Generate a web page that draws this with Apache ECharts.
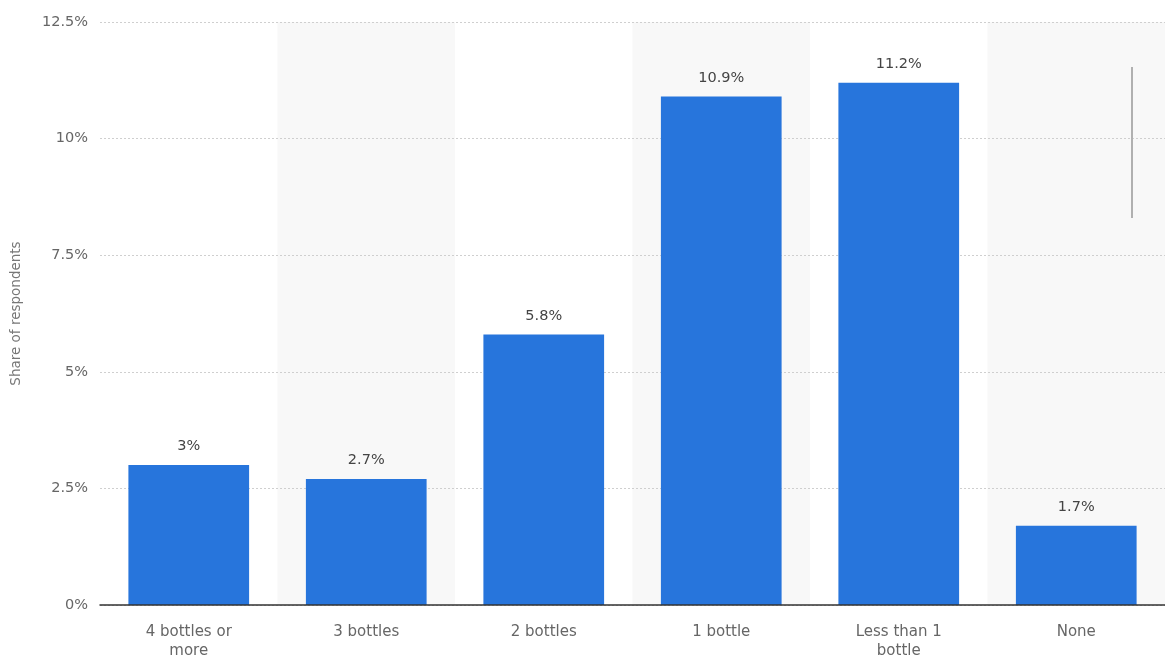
<!DOCTYPE html>
<html><head><meta charset="utf-8">
<script src="https://cdn.jsdelivr.net/npm/echarts@6/dist/echarts.min.js"></script>
<style>html,body{margin:0;padding:0;background:#fff}#c{width:1165px;height:657px}</style>
</head><body><div id="c"></div>
<script>
const categories = ['4 bottles or\nmore', '3 bottles', '2 bottles', '1 bottle', 'Less than 1\nbottle', 'None'];
const values = [3, 2.7, 5.8, 10.9, 11.2, 1.7];
const yTicks = [0, 2.5, 5, 7.5, 10, 12.5];
const yTitle = 'Share of respondents';
const shadedBands = ['3 bottles', '1 bottle', 'None'];

const yMax = yTicks[yTicks.length - 1];
const bandData = categories.map(c => shadedBands.includes(c) ? yMax : null);
const FONT = 'DejaVu Sans, Verdana, sans-serif';

const chart = echarts.init(document.getElementById('c'));
chart.setOption({
  animation: false,
  textStyle: { fontFamily: FONT },
  grid: { left: 100, right: 0, top: 22, bottom: 52, containLabel: false, outerBoundsMode: 'none' },
  xAxis: [{
    type: 'category',
    data: categories,
    z: 5,
    axisLine: { lineStyle: { color: '#333', width: 1.5 } },
    axisTick: { show: false },
    axisLabel: { color: '#666', fontSize: 15, fontFamily: FONT, margin: 18, lineHeight: 19, interval: 0 }
  }, {
    type: 'category',
    data: categories,
    show: false
  }],
  yAxis: {
    type: 'value',
    z: 1,
    min: yTicks[0], max: yMax, interval: 2.5,
    name: yTitle,
    nameLocation: 'middle',
    nameGap: 77,
    nameTextStyle: { color: '#777', fontSize: 13.5, fontFamily: FONT },
    axisLine: { show: false },
    axisTick: { show: false },
    axisLabel: { color: '#666', fontSize: 14.5, fontFamily: FONT, margin: 12, formatter: v => v + '%' },
    splitLine: { lineStyle: { color: '#cfcfcf', type: [2, 2], width: 1 } }
  },
  series: [{
    type: 'bar',
    xAxisIndex: 1,
    data: bandData,
    barWidth: '100%',
    silent: true,
    z: 0,
    itemStyle: { color: '#f8f8f8' }
  }, {
    type: 'bar',
    xAxisIndex: 0,
    data: values,
    barWidth: '68%',
    z: 3,
    itemStyle: { color: '#2775dc' },
    label: { show: true, position: 'top', distance: 11, color: '#444', fontSize: 14.5, fontFamily: FONT, formatter: p => p.value + '%' }
  }],
  graphic: [{
    type: 'line',
    z: 100,
    silent: true,
    shape: { x1: 1132, y1: 67, x2: 1132, y2: 218 },
    style: { stroke: '#b0b0b0', lineWidth: 2 }
  }]
});
</script></body></html>
